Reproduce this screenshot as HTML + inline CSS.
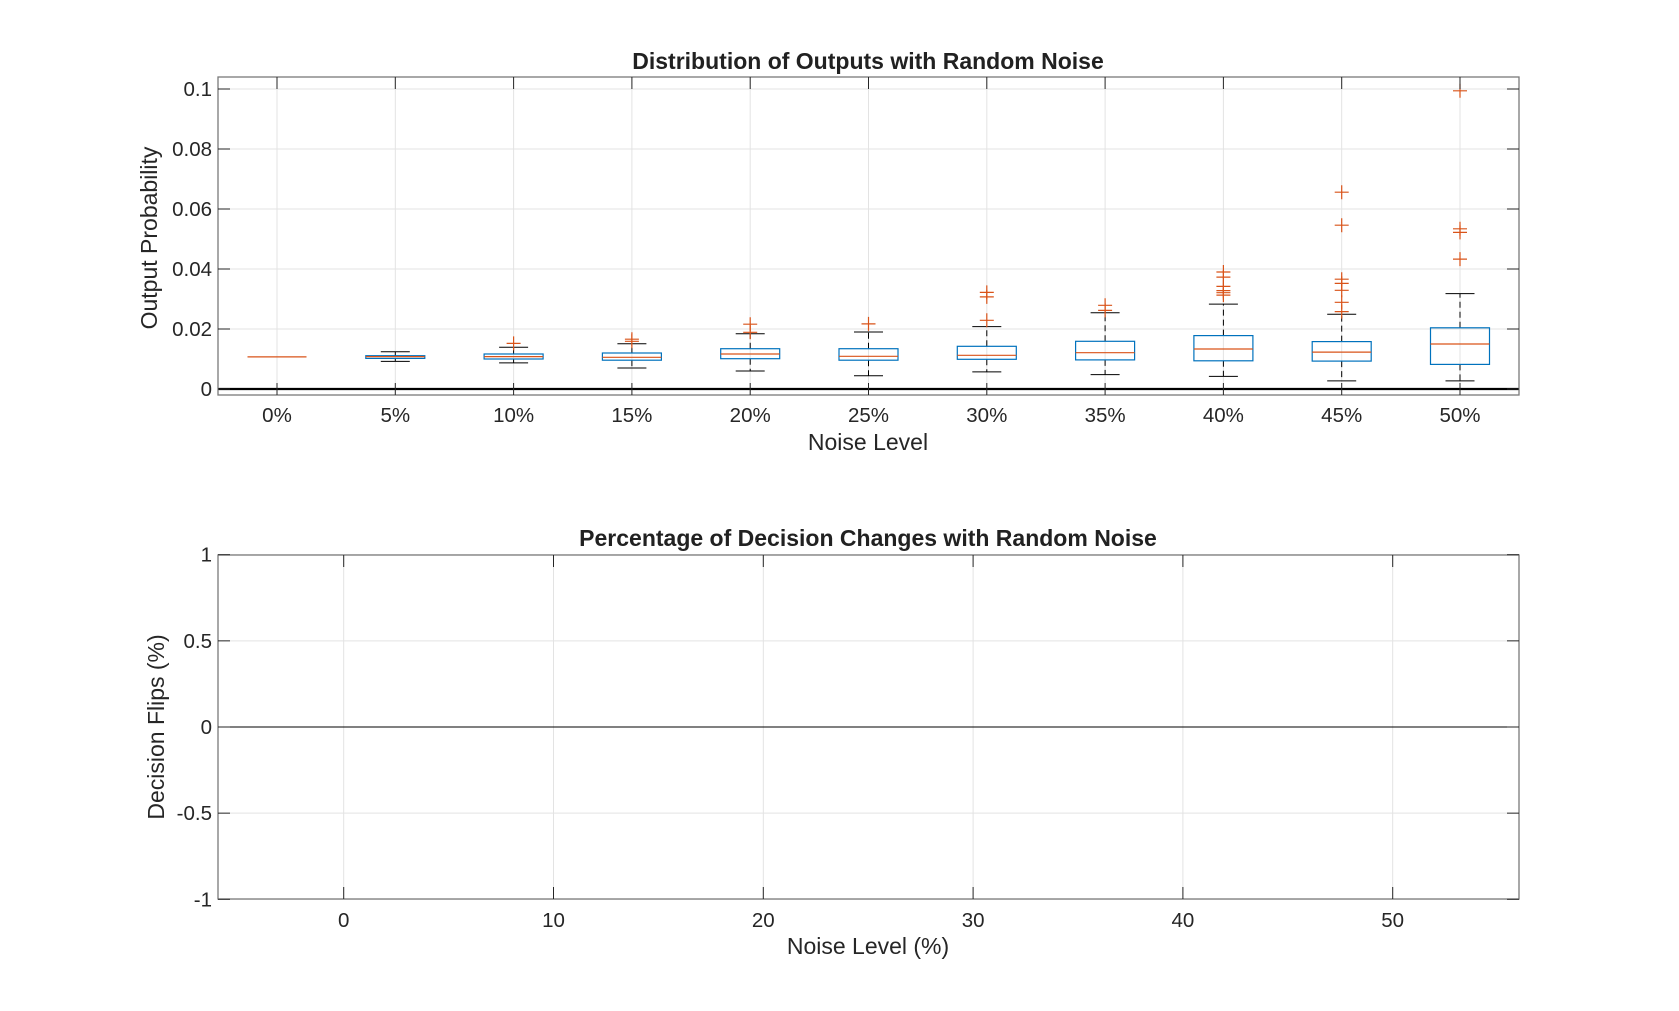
<!DOCTYPE html>
<html><head><meta charset="utf-8"><style>
html,body{margin:0;padding:0;background:#fff;}
svg{display:block;font-family:"Liberation Sans",Arial,sans-serif;}
</style></head><body>
<svg id="fig" width="1679" height="1011" viewBox="0 0 1679 1011" xmlns="http://www.w3.org/2000/svg">
<rect width="1679" height="1011" fill="#fff"/>
<g id="topAxes"></g>
<g id="botAxes"></g>
</svg>
<script>
const categories=['0%','5%','10%','15%','20%','25%','30%','35%','40%','45%','50%'];
const medians=[0.0107,0.0108,0.0108,0.01057,0.01167,0.0109,0.01123,0.0121,0.01333,0.0123,0.015];
const q1=[0.0107,0.0102,0.0100,0.0096,0.0101,0.0096,0.0099,0.0097,0.0094,0.0093,0.0082];
const q3=[0.0107,0.0111,0.01167,0.0120,0.01343,0.01343,0.01423,0.0159,0.0178,0.0158,0.0204];
const whiskerLow=[0.0107,0.0092,0.0087,0.0070,0.0060,0.0044,0.0057,0.0048,0.0042,0.0027,0.0027];
const whiskerHigh=[0.0107,0.01243,0.0139,0.0151,0.01843,0.0190,0.0208,0.0254,0.0283,0.0249,0.0318];
const outliers=[[],[],[0.0152],[0.0166,0.0159],[0.0216,0.0189],[0.0217],[0.0322,0.0307,0.0229],[0.0279,0.0262],[0.039,0.0373,0.0342,0.0328,0.0321,0.0313],[0.0656,0.0546,0.0366,0.0352,0.0329,0.0289,0.0258],[0.0994,0.0534,0.0522,0.0433]];
const yTicksTop=[0,0.02,0.04,0.06,0.08,0.1];
const yTickLabelsTop=['0','0.02','0.04','0.06','0.08','0.1'];
const flipX=[0,5,10,15,20,25,30,35,40,45,50];
const flipY=[0,0,0,0,0,0,0,0,0,0,0];
const xTicksBot=[0,10,20,30,40,50];
const yTicksBot=[-1,-0.5,0,0.5,1];
const yTickLabelsBot=['-1','-0.5','0','0.5','1'];

const NS='http://www.w3.org/2000/svg';
const TF=20.5;
function mk(parent,tag,attrs,text){const e=document.createElementNS(NS,tag);for(const k in attrs)e.setAttribute(k,attrs[k]);if(text!==undefined)e.textContent=text;parent.appendChild(e);return e;}

const T={l:218,r:1519,t:77,b:395};
const tx=i=>277+i*118.3;
const ty=v=>389-3000*v;
const topG=document.getElementById('topAxes');
const AX='#7a7a7a';
categories.forEach((c,i)=>{const g=mk(topG,'line',{x1:tx(i),x2:tx(i),y1:T.t,y2:T.b,stroke:'#e3e3e3','stroke-width':1});});
yTicksTop.forEach(v=>{const g=mk(topG,'line',{x1:T.l,x2:T.r,y1:ty(v),y2:ty(v),stroke:'#e3e3e3','stroke-width':1});});
let z=mk(topG,'line',{x1:T.l,x2:T.r,y1:ty(0),y2:ty(0),stroke:'#000','stroke-width':2.2});

categories.forEach((c,i)=>{
 const g=mk(topG,'g',{});
 
 
 const x=tx(i),hw=29.5,cw=14.5;
 if(whiskerHigh[i]>q3[i]){
  mk(g,'line',{x1:x,x2:x,y1:ty(q3[i]),y2:ty(whiskerHigh[i]),stroke:'#000','stroke-width':1,'stroke-dasharray':'6,4'});
  mk(g,'line',{x1:x-cw,x2:x+cw,y1:ty(whiskerHigh[i]),y2:ty(whiskerHigh[i]),stroke:'#000','stroke-width':1});
 }
 if(whiskerLow[i]<q1[i]){
  mk(g,'line',{x1:x,x2:x,y1:ty(q1[i]),y2:ty(whiskerLow[i]),stroke:'#000','stroke-width':1,'stroke-dasharray':'6,4'});
  mk(g,'line',{x1:x-cw,x2:x+cw,y1:ty(whiskerLow[i]),y2:ty(whiskerLow[i]),stroke:'#000','stroke-width':1});
 }
 if(q3[i]>q1[i]) mk(g,'rect',{x:x-hw,y:ty(q3[i]),width:2*hw,height:ty(q1[i])-ty(q3[i]),fill:'none',stroke:'#0072BD','stroke-width':1.2});
 mk(g,'line',{x1:x-hw,x2:x+hw,y1:ty(medians[i]),y2:ty(medians[i]),stroke:'#D95319','stroke-width':1.2});
 outliers[i].forEach(v=>{
  const o=mk(g,'path',{d:`M${x-7},${ty(v)}H${x+7}M${x},${ty(v)-7}V${ty(v)+7}`,stroke:'#D95319','stroke-width':1.2,fill:'none'});
  
  
 });
});
let fr=mk(topG,'rect',{x:T.l,y:T.t,width:T.r-T.l,height:T.b-T.t,fill:'none',stroke:AX,'stroke-width':1.3});

categories.forEach((c,i)=>{
 mk(topG,'line',{x1:tx(i),x2:tx(i),y1:T.b,y2:T.b-12,stroke:'#262626'});
 mk(topG,'line',{x1:tx(i),x2:tx(i),y1:T.t,y2:T.t+12,stroke:'#262626'});
 const t=mk(topG,'text',{x:tx(i),y:422,'font-size':TF,fill:'#262626','text-anchor':'middle'},c);
 
 
});
yTicksTop.forEach((v,k)=>{
 mk(topG,'line',{x1:T.l,x2:T.l+12,y1:ty(v),y2:ty(v),stroke:'#262626'});
 mk(topG,'line',{x1:T.r,x2:T.r-12,y1:ty(v),y2:ty(v),stroke:'#262626'});
 const t=mk(topG,'text',{x:212,y:ty(v)+7,'font-size':TF,fill:'#262626','text-anchor':'end'},yTickLabelsTop[k]);
 
 
});
let tt=mk(topG,'text',{x:868,y:69,'font-size':23,'font-weight':'bold',fill:'#212121','text-anchor':'middle'},'Distribution of Outputs with Random Noise');

let xl=mk(topG,'text',{x:868,y:450,'font-size':23,fill:'#262626','text-anchor':'middle'},'Noise Level');

let yl=mk(topG,'text',{x:0,y:0,'font-size':23,fill:'#262626','text-anchor':'middle',transform:'translate(157,238) rotate(-90)'},'Output Probability');


const B={l:218,r:1519,t:555,b:899};
const bx=v=>343.7+(v)*20.98;
const by=v=>727-v*172.3;
const botG=document.getElementById('botAxes');
xTicksBot.forEach(v=>{const g=mk(botG,'line',{x1:bx(v),x2:bx(v),y1:B.t,y2:B.b,stroke:'#e3e3e3'});});
yTicksBot.forEach(v=>{const g=mk(botG,'line',{x1:B.l,x2:B.r,y1:by(v),y2:by(v),stroke:'#e3e3e3'});});
let pts=flipX.map((x,i)=>bx(x)+','+by(flipY[i])).join(' ');
let ln=mk(botG,'line',{x1:B.l,x2:B.r,y1:by(0),y2:by(0),stroke:'#000','stroke-width':1.1});

let pl=mk(botG,'polyline',{points:pts,fill:'none',stroke:'#000','stroke-width':1.1});

let fr2=mk(botG,'rect',{x:B.l,y:B.t,width:B.r-B.l,height:B.b-B.t,fill:'none',stroke:AX,'stroke-width':1.3});

xTicksBot.forEach(v=>{
 mk(botG,'line',{x1:bx(v),x2:bx(v),y1:B.b,y2:B.b-12,stroke:'#262626'});
 mk(botG,'line',{x1:bx(v),x2:bx(v),y1:B.t,y2:B.t+12,stroke:'#262626'});
 const t=mk(botG,'text',{x:bx(v),y:927,'font-size':TF,fill:'#262626','text-anchor':'middle'},String(v));
 
 
});
yTicksBot.forEach((v,k)=>{
 mk(botG,'line',{x1:B.l,x2:B.l+12,y1:by(v),y2:by(v),stroke:'#262626'});
 mk(botG,'line',{x1:B.r,x2:B.r-12,y1:by(v),y2:by(v),stroke:'#262626'});
 const t=mk(botG,'text',{x:212,y:by(v)+7,'font-size':TF,fill:'#262626','text-anchor':'end'},yTickLabelsBot[k]);
 
 
});
let bt=mk(botG,'text',{x:868,y:546,'font-size':23,'font-weight':'bold',fill:'#212121','text-anchor':'middle'},'Percentage of Decision Changes with Random Noise');

let bxl=mk(botG,'text',{x:868,y:954,'font-size':23,fill:'#262626','text-anchor':'middle'},'Noise Level (%)');

let byl=mk(botG,'text',{x:0,y:0,'font-size':23,fill:'#262626','text-anchor':'middle',transform:'translate(164,727) rotate(-90)'},'Decision Flips (%)');

</script>
</body></html>
